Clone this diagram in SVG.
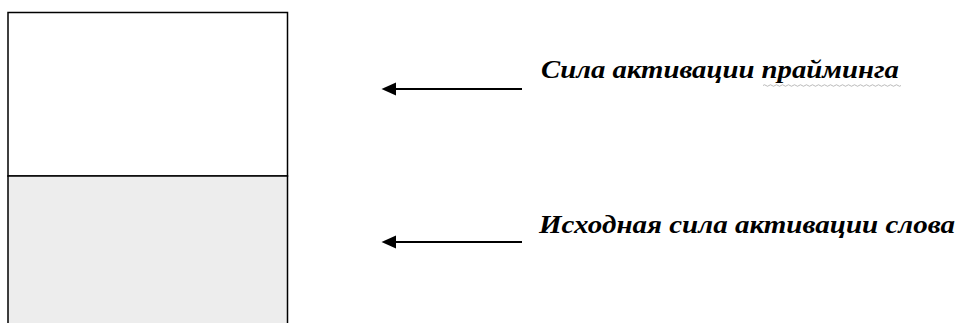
<svg xmlns="http://www.w3.org/2000/svg" width="959" height="323" viewBox="0 0 959 323">
<style>
.box{stroke:#000;stroke-width:1.5}
.lbl{font-family:"Liberation Serif","Times New Roman",serif;font-style:italic;font-weight:bold;font-size:26px;fill:#000}
.conn{stroke:#000;stroke-width:1.8;fill:none}
.head{fill:#000}
</style>
<rect width="959" height="323" fill="#fff"/>
<g id="priming-box"><rect class="box" x="8" y="12.5" width="279.5" height="163.5" fill="#fff"/></g>
<g id="base-box"><rect class="box" x="8" y="176" width="279.5" height="160" fill="#ededed"/></g>
<g id="connectors">
<line class="conn" x1="522" y1="89" x2="393" y2="89"/>
<path class="head" d="M381.5 89 L396 82.5 L396 95.5 Z"/>
<line class="conn" x1="522" y1="242" x2="393" y2="242"/>
<path class="head" d="M381.5 242 L396 235.5 L396 248.5 Z"/>
</g>
<g id="label-priming">
<text class="lbl" x="541" y="77.5" textLength="358" lengthAdjust="spacingAndGlyphs">Сила активации прайминга</text>
<path d="M763 85.5 q1.5 -1.5 3 0 t3 0 t3 0 t3 0 t3 0 t3 0 t3 0 t3 0 t3 0 t3 0 t3 0 t3 0 t3 0 t3 0 t3 0 t3 0 t3 0 t3 0 t3 0 t3 0 t3 0 t3 0 t3 0 t3 0 t3 0 t3 0 t3 0 t3 0 t3 0 t3 0 t3 0 t3 0 t3 0 t3 0 t3 0 t3 0 t3 0 t3 0 t3 0 t3 0 t3 0 t3 0 t3 0 t3 0 t3 0 t3 0" stroke="#a8a8a8" stroke-width="0.8" fill="none"/>
</g>
<g id="label-base"><text class="lbl" x="539" y="233" textLength="416" lengthAdjust="spacingAndGlyphs">Исходная сила активации слова</text></g>
</svg>
